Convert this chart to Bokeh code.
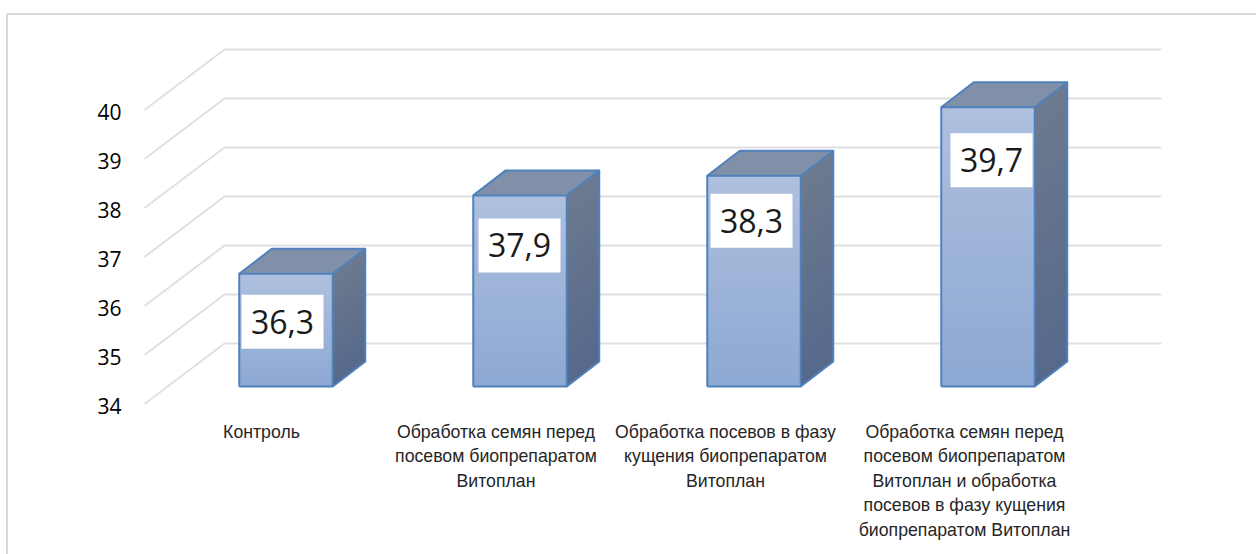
from bokeh.plotting import figure
from bokeh.embed import file_html
from bokeh.resources import INLINE
from bokeh.core.properties import value
from bokeh.models import Range1d

categories = [
    "Контроль",
    "Обработка семян перед\nпосевом биопрепаратом\nВитоплан",
    "Обработка посевов в фазу\nкущения биопрепаратом\nВитоплан",
    "Обработка семян перед\nпосевом биопрепаратом\nВитоплан и обработка\nпосевов в фазу кущения\nбиопрепаратом Витоплан",
]
values = [36.3, 37.9, 38.3, 39.7]
value_labels = ["36,3", "37,9", "38,3", "39,7"]
y_ticks = [34, 35, 36, 37, 38, 39, 40]
y_tick_labels = ["34", "35", "36", "37", "38", "39", "40"]

W, H = 1256, 554
PX = 234.0          # px per category
PY = 49.0           # px per unit
X0 = 285.5          # pixel of category 0 centre
Y0 = 386.0          # pixel of value 34 at bar front

x_range = Range1d(-X0 / PX, (W - X0) / PX)
y_range = Range1d(34 - (H - Y0) / PY, 34 + Y0 / PY)

p = figure(width=W, height=H, x_range=x_range, y_range=y_range,
           output_backend="svg", toolbar_location=None, min_border=0,
           outline_line_color=None)
p.axis.visible = False
p.grid.visible = False


def dx(px):
    return px / PX


def dy(px):
    return -px / PY


def mix(a, b, t):
    return "#%02x%02x%02x" % tuple(round(a[i] + (b[i] - a[i]) * t) for i in range(3))


# chart frame
fx = dx(6.5 - X0)
ftop = 34 + dy(13.5 - Y0)
fbot = y_range.start
p.line([fx, fx, x_range.end], [fbot, ftop, ftop], line_color="#dadada", line_width=2)

# grid: back wall and floor
back_dx, back_dy = dx(224 - X0), dy(343 - Y0)
front_dx, front_dy = dx(144 - X0), dy(403.5 - Y0)
right = dx(1161 - X0)
for v in y_ticks:
    p.line([front_dx, back_dx, right],
           [v + front_dy, v + back_dy, v + back_dy],
           line_color="#e0e0e0", line_width=2)

# tick labels
p.text([dx(109 - X0)] * len(y_ticks), [v + dy(405 - Y0) for v in y_ticks], text=y_tick_labels,
       text_font=value("Open Sans"), text_font_size="21px",
       text_color="#000000", text_align="center", text_baseline="middle")

# bars
BW = 93.5 / PX
DX, DY = dx(32.5), 25 / PY
N = 40
front_top, front_bot = (174, 192, 222), (141, 168, 211)
side_top, side_bot = (109, 122, 143), (86, 105, 139)
top_col = "#8090a9"
EDGE = "#4f81bd"
for i, v in enumerate(values):
    l, r = i - BW / 2, i + BW / 2
    h = v - 34
    # painted bottom-up, each strip running to the top of the face, so no seams
    for k in range(N):
        b = 34 + h * k / N
        p.quad(left=l, right=r, bottom=b, top=v,
               fill_color=mix(front_bot, front_top, (k + .5) / N), line_color=None)
        p.patch([r, r + DX, r + DX, r], [b, b + DY, v + DY, v],
                fill_color=mix(side_bot, side_top, (k + .5) / N), line_color=None)
    p.patch([l, r, r + DX, l + DX], [v, v, v + DY, v + DY], fill_color=top_col, line_color=None)
    for xx, yy in (([l, r, r, l, l], [34, 34, v, v, 34]),
                   ([r, r + DX, r + DX, r], [34, 34 + DY, v + DY, v]),
                   ([l, l + DX, r + DX], [v, v + DY, v + DY])):
        p.line(xx, yy, line_color=EDGE, line_width=2, line_join="round")

# value labels with white box
box_dx = [-3.5, -0.5, -2.5, 3.5]
box_dy = [48, 50, 45, 53]
for i, v in enumerate(values):
    cx = i + dx(box_dx[i])
    cy = v + dy(box_dy[i])
    p.rect([cx], [cy], width=82 / PX, height=54 / PY, fill_color="white", line_color=None)
    p.text([cx], [cy - dy(-1) * 0 ], text=[value_labels[i]], text_font=value("Open Sans"), text_font_size="32px",
           text_color="#1a1a1a", text_align="center", text_baseline="middle")

# category labels
cat_x = [261, 495.5, 725, 964]
for i, lab in enumerate(categories):
    for j, line in enumerate(lab.split("\n")):
        p.text([dx(cat_x[i] - X0)], [34 + dy(431 + 24.5 * j - Y0)], text=[line],
               text_font=value("Liberation Sans"), text_font_size="17.7px",
               text_color="#262626", text_align="center", text_baseline="middle")

open("out.html", "w").write(file_html(p, INLINE))
